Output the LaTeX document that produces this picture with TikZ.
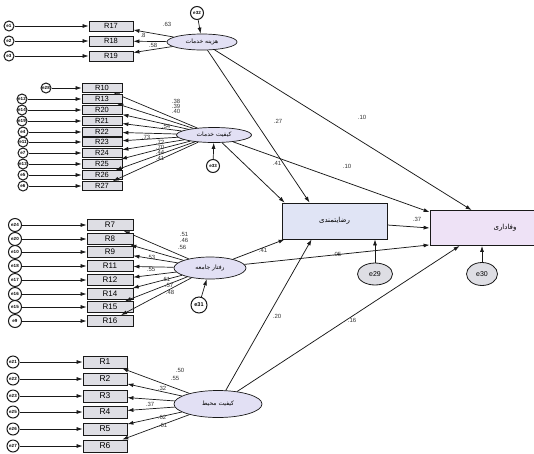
\documentclass[tikz,border=0pt]{standalone}
\usepackage{fontspec}
\setmainfont{Liberation Sans}
\newfontfamily\fa[Script=Arabic]{DejaVu Sans}
\TeXXeTstate=1
\newcommand{\pers}[1]{{\fa\beginR #1\endR}}
\usetikzlibrary{shapes.geometric,arrows.meta}
\definecolor{indgray}{RGB}{222,222,228}
\definecolor{latfill}{RGB}{226,224,244}
\definecolor{rzfill}{RGB}{224,228,245}
\definecolor{vffill}{RGB}{238,226,246}
\definecolor{linea}{RGB}{25,25,25}

\begin{document}
\begin{tikzpicture}[x=1pt,y=-1pt,
    ind/.style={draw=linea, line width=0.8pt, fill=indgray, minimum width=40pt, minimum height=9pt,
        inner sep=0pt, font=\fontsize{7.5}{7.5}\selectfont},
    err/.style={draw=linea, line width=1pt, circle, fill=white, minimum size=10pt, inner sep=0pt,
        font=\bfseries\fontsize{4.5}{4.5}\selectfont},
    lat/.style={draw=linea, line width=0.7pt, ellipse, fill=latfill, inner sep=0pt,
        font=\fontsize{6}{6}\selectfont},
    endo/.style={draw=linea, line width=0.8pt, minimum height=36pt, inner sep=0pt,
        font=\fontsize{7}{7}\selectfont},
    lbl/.style={font=\fontsize{6}{6}\selectfont, text=black!80, inner sep=0pt},
    arr/.style={draw=linea, -{Latex[length=6pt,width=4pt]}, line width=0.7pt},
    path/.style={arr, line width=0.75pt}]
    \clip (0,0) rectangle (534,453);

    % Fattore hk a y=42 (3 indicatori)
    \node[lat, minimum width=70pt, minimum height=16pt] (hk) at (202,42) {\pers{هزینه خدمات}};
    \node[err, minimum size=13pt] (e32) at (197,13) {e32};
    \draw[arr] (e32) -- (hk);
    \foreach \ri/\er/\y in {R17/e1/26, R18/e2/41, R19/e3/56} {
        \node[ind, minimum width=44pt, minimum height=10pt] (\ri) at (111,\y) {\ri};
        \node[err] (\er) at (9,\y) {\er};
        \draw[arr] (\er) -- (\ri);
        \draw[arr] (hk) -- (\ri);
    }
    \foreach \v/\lx/\ly [count=\i] in {.63/167/24, .8/143/35, .58/153/45}
        \node[lbl] (lhk\i) at (\lx,\ly) {\v};

    % Fattore ksv a y=135 (10 indicatori)
    \node[lat, minimum width=75pt, minimum height=15pt] (ksv) at (214,135) {\pers{کیفیت خدمات}};
    \node[err, minimum width=13pt, minimum height=11pt] (e33) at (213,166) {e33};
    \draw[arr] (e33) -- (ksv);
    \foreach \ri/\er/\ex/\y in {R10/e28/46/88, R13/e12/22/99, R20/e14/22/110, R21/e19/22/121,
            R22/e4/23/132, R23/e11/23/142, R24/e7/23/153, R25/e13/23/164,
            R26/e5/23/175, R27/e6/23/186} {
        \node[ind] (\ri) at (102,\y) {\ri};
        \node[err] (\er) at (\ex,\y) {\er};
        \draw[arr] (\er) -- (\ri);
        \draw[arr] (ksv) -- (\ri);
    }
    \foreach \v/\lx/\ly [count=\i] in {.38/176/101, .39/176/106, .40/176/111, .54/166/126,
            .73/146/137, .72/160/142, .70/160/147, .44/160/152, .41/160/158}
        \node[lbl] (lksv\i) at (\lx,\ly) {\v};

    % Fattore rj a y=268 (8 indicatori)
    \node[lat, minimum width=72pt, minimum height=22pt] (rj) at (210,268) {\pers{رفتار جامعه}};
    \node[err, minimum width=16pt, minimum height=14pt, font=\bfseries\fontsize{5.5}{5.5}\selectfont] (e31) at (199,305) {e31};
    \draw[arr] (e31) -- (rj);
    \foreach \ri/\er/\y in {R7/e24/225, R8/e20/239, R9/e10/252, R11/e18/266,
            R12/e17/280, R14/e16/294, R15/e15/307, R16/e9/321} {
        \node[ind, minimum width=46pt, minimum height=11pt, font=\fontsize{8}{8}\selectfont] (\ri) at (110,\y) {\ri};
        \node[err, minimum width=13pt] (\er) at (15,\y) {\er};
        \draw[arr] (\er) -- (\ri);
        \draw[arr] (rj) -- (\ri);
    }
    \foreach \v/\lx/\ly [count=\i] in {.51/184/234, .46/184/240, .56/182/247, .53/151/257,
            .55/151/269, .61/166/279, .57/169/285, .48/170/292}
        \node[lbl] (lrj\i) at (\lx,\ly) {\v};

    % Fattore km a y=404 (6 indicatori)
    \node[lat, minimum width=88pt, minimum height=27pt] (km) at (218,404) {\pers{کیفیت محیط}};
    \foreach \ri/\er/\y in {R1/e21/362, R2/e22/379, R3/e23/396, R4/e25/412, R5/e26/429, R6/e27/446} {
        \node[ind, minimum width=44pt, minimum height=12pt, font=\fontsize{8.5}{8.5}\selectfont] (\ri) at (105,\y) {\ri};
        \node[err, minimum size=12pt] (\er) at (13,\y) {\er};
        \draw[arr] (\er) -- (\ri);
        \draw[arr] (km) -- (\ri);
    }
    \foreach \v/\lx/\ly [count=\i] in {.50/180/370, .55/175/378, .32/162/388, .37/150/404, .62/162/417, .61/163/425}
        \node[lbl] (lkm\i) at (\lx,\ly) {\v};

    % Variabili endogene
    \node[endo, fill=rzfill, minimum width=105pt] (rz) at (334.5,221) {\pers{رضایتمندی}};
    \node[endo, fill=vffill, minimum width=150pt, minimum height=35pt] (vf) at (505,228) {\pers{وفاداری}};
    \node[draw=linea, line width=0.8pt, ellipse, fill=indgray, minimum width=35pt, minimum height=22pt, inner sep=0pt,
        font=\fontsize{7}{7}\selectfont] (e29) at (375,274) {e29};
    \node[draw=linea, line width=0.8pt, ellipse, fill=indgray, minimum width=31pt, minimum height=23pt, inner sep=0pt,
        font=\fontsize{7}{7}\selectfont] (e30) at (482,274) {e30};
    \draw[arr] (e29) -- (e29 |- rz.south);
    \draw[arr] (e30) -- (e30 |- vf.south);

    % Percorsi strutturali
    \draw[path] (hk) -- ([xshift=28pt]rz.north west);
    \draw[path] (hk) -- ([xshift=42pt]vf.north west);
    \draw[path] (ksv) -- ([xshift=3pt]rz.north west);
    \draw[path] (ksv) -- ([yshift=-2pt]vf.north west);
    \draw[path] ([yshift=-4pt]rz.east) -- (vf.west);
    \draw[path] (rj) -- ([xshift=3pt]rz.south west);
    \draw[path] (rj) -- ([yshift=1pt]vf.south west);
    \draw[path] (km) -- ([xshift=30pt]rz.south west);
    \draw[path] (km) -- ([xshift=30pt]vf.south west);
    \node[lbl] (p1) at (278,121) {.27};
    \node[lbl] (p2) at (362,117) {.10};
    \node[lbl] (p3) at (277,163) {.41};
    \node[lbl] (p4) at (347,166) {.10};
    \node[lbl] (p5) at (417,219) {.37};
    \node[lbl] (p6) at (263,250) {.41};
    \node[lbl] (p7) at (337,254) {.05};
    \node[lbl] (p8) at (277,316) {.20};
    \node[lbl] (p9) at (352,320) {.16};
\end{tikzpicture}
\end{document}
